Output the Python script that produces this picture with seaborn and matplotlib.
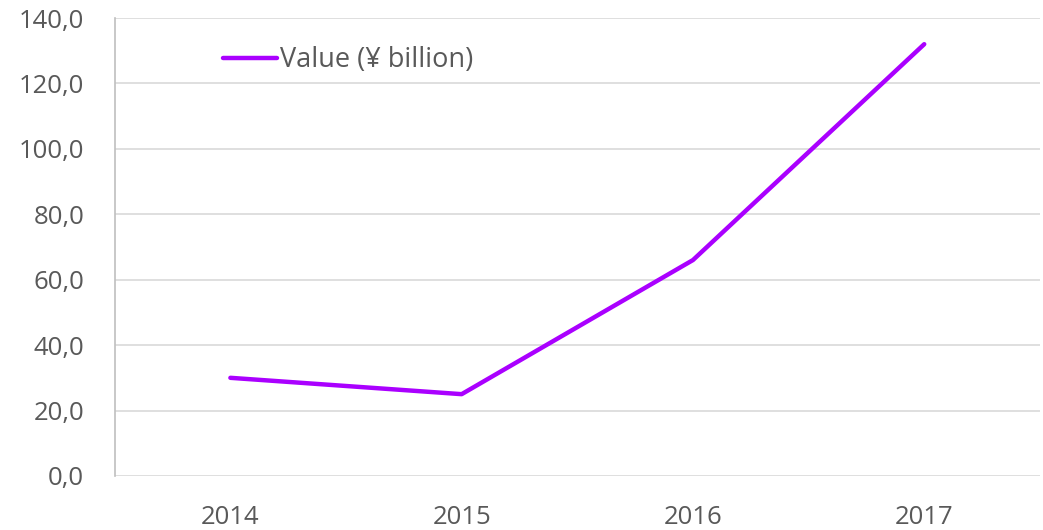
import matplotlib
matplotlib.use("Agg")
import matplotlib.pyplot as plt
import matplotlib.ticker as mticker
import seaborn as sns
import pandas as pd

# datos
years = ["2014", "2015", "2016", "2017"]
values = [30.0, 25.0, 66.0, 132.0]
series_name = "Value (¥ billion)"

LINE_COLOR = "#AA00FF"
TEXT_COLOR = "#595959"

sns.set_style("white")
plt.rcParams["font.family"] = ["Open Sans", "DejaVu Sans"]

df = pd.DataFrame({"year": years, "value": values})

fig = plt.figure(figsize=(10.43, 5.30), dpi=100)
ax = fig.add_axes([0.110, 0.102, 0.887, 0.864])

sns.lineplot(data=df, x="year", y="value", ax=ax, color=LINE_COLOR,
             linewidth=3.2, solid_capstyle="round", label=series_name, sort=False)

ax.set_xlim(-0.5, 3.5)
ax.set_ylim(0, 140)
ax.yaxis.set_major_locator(mticker.MultipleLocator(20))
ax.yaxis.set_major_formatter(mticker.FuncFormatter(lambda v, p: f"{v:.1f}".replace(".", ",")))
ax.grid(axis="y", color="#D9D9D9", linewidth=1.2)
ax.set_axisbelow(True)

for s in ["top", "right", "bottom"]:
    ax.spines[s].set_visible(False)
ax.spines["left"].set_color("#BFBFBF")
ax.spines["left"].set_linewidth(1.2)

ax.tick_params(axis="y", length=8, width=1.2, color="#BFBFBF", colors=TEXT_COLOR,
               labelsize=18.5, pad=14)
ax.tick_params(axis="x", length=0, colors=TEXT_COLOR, labelsize=18.5, pad=21)
ax.set_xlabel("")
ax.set_ylabel("")

leg = ax.legend(loc="upper left", bbox_to_anchor=(0.105, 0.962), frameon=False,
                fontsize=19.5, handlelength=2.0, handletextpad=0.1, borderaxespad=0)
for t in leg.get_texts():
    t.set_color(TEXT_COLOR)
for h in leg.get_lines():
    h.set_linewidth(3.2)
    h.set_solid_capstyle("round")

fig.savefig("out.png", dpi=100)
